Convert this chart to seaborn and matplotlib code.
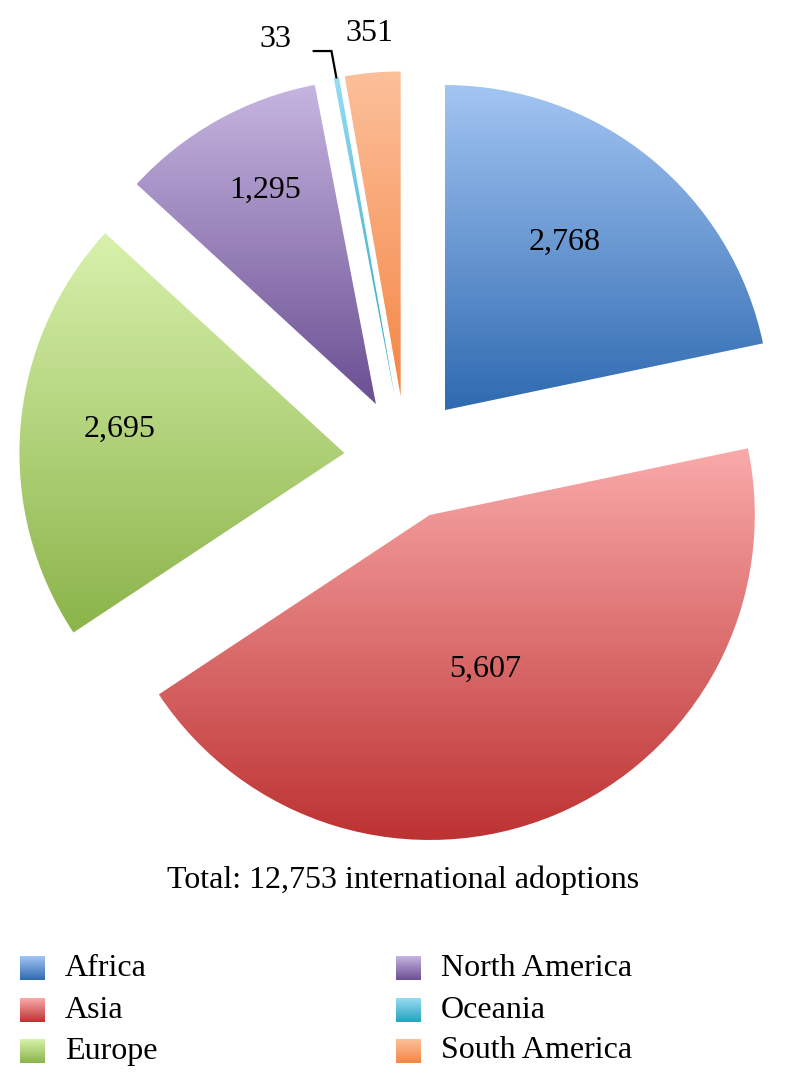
import numpy as np
import matplotlib
matplotlib.use("Agg")
import matplotlib.pyplot as plt
import seaborn as sns

# ---------------- data ----------------
regions = ["Africa", "Asia", "Europe", "North America", "Oceania", "South America"]
adoptions = [2768, 5607, 2695, 1295, 33, 351]
value_labels = ["2,768", "5,607", "2,695", "1,295", "33", "351"]
total_label = "Total: 12,753 international adoptions"

# ---------------- style ----------------
top_colors = ["#A3C5F3", "#FAAAAA", "#D8F1AC", "#C6B5E0", "#96DDF2", "#FCC09A"]
bottom_colors = ["#2E6AB0", "#BD3232", "#8BB44A", "#6A4F92", "#25A2BE", "#F48645"]
label_frac = [0.635, 0.506, 0.694, 0.741, 1.0, 1.12]
label_dang = [3.6, -3.0, -1.4, -1.7, 0.0, 0.0]

sns.set_theme(style="white")
plt.rcParams['font.family'] = ['Liberation Serif', 'DejaVu Serif']
plt.rcParams['text.color'] = 'black'
FS = 23

W, H = 786, 1088
fig = plt.figure(figsize=(W / 100, H / 100), dpi=100)
ax = fig.add_axes([0, 0, 1, 1])
R = 325.0
cx, cy = 406.0, 458.0

wedges, _ = ax.pie(adoptions, explode=[0.19] * len(adoptions), startangle=90,
                   counterclock=False, radius=1.0,
                   wedgeprops=dict(linewidth=0))

grad = np.linspace(0, 1, 256).reshape(-1, 1)
for w, tc, bc in zip(wedges, top_colors, bottom_colors):
    w.set_facecolor('none')
    w.set_edgecolor('none')
    ext = w.get_path().get_extents()
    cmap = sns.blend_palette([bc, tc], as_cmap=True)
    im = ax.imshow(grad, extent=[ext.x0, ext.x1, ext.y0, ext.y1], origin='lower',
                   cmap=cmap, aspect='auto', interpolation='bilinear', zorder=1)
    im.set_clip_path(w)

# value labels
for i, w in enumerate(wedges):
    mid = np.deg2rad((w.theta1 + w.theta2) / 2 + label_dang[i])
    x0, y0 = w.center
    if i < 4:
        ax.text(x0 + label_frac[i] * np.cos(mid), y0 + label_frac[i] * np.sin(mid),
                value_labels[i], ha='center', va='center', fontsize=FS, color='black',
                zorder=3)
    elif regions[i] == "Oceania":
        tip = (x0 + np.cos(mid), y0 + np.sin(mid))
        elbow = (x0 + 1.083 * np.cos(mid), y0 + 1.083 * np.sin(mid))
        left = (elbow[0] - 18 / R, elbow[1])
        ax.plot([tip[0], elbow[0], left[0]], [tip[1], elbow[1], left[1]],
                color='black', lw=1.6, solid_joinstyle='miter', zorder=3)
        ax.annotate(value_labels[i], xy=left, xytext=(-22, 12),
                    textcoords='offset pixels', ha='right', va='center',
                    fontsize=FS, color='black')
    else:
        ax.text(x0 + label_frac[i] * np.cos(mid), y0 + label_frac[i] * np.sin(mid),
                value_labels[i], ha='center', va='center', fontsize=FS, color='black')

ax.set_xlim(-cx / R, (W - cx) / R)
ax.set_ylim((cy - H) / R, cy / R)
ax.axis('off')

fig.text(403 / W, 1 - 880 / H, total_label, ha='center', va='center', fontsize=FS,
         color='black')

# legend (manual, gradient squares)
lax = fig.add_axes([0, 0, 1, 1], zorder=5)
lax.set_xlim(0, W)
lax.set_ylim(H, 0)
lax.axis('off')
col_x = [20, 396]
row_y = [968, 1010, 1051]
sq = 24
for i, name in enumerate(regions):
    col, row = divmod(i, 3)
    x, y = col_x[col], row_y[row]
    cmap = sns.blend_palette([bottom_colors[i], top_colors[i]], as_cmap=True)
    lax.imshow(grad, extent=[x, x + sq + 1, y + sq / 2, y - sq / 2], origin='lower',
               cmap=cmap, aspect='auto', interpolation='bilinear')
    lax.text(x + 45, y, name, ha='left', va='center', fontsize=FS, color='black')
lax.set_xlim(0, W)
lax.set_ylim(H, 0)

fig.savefig("out.png", dpi=100)
